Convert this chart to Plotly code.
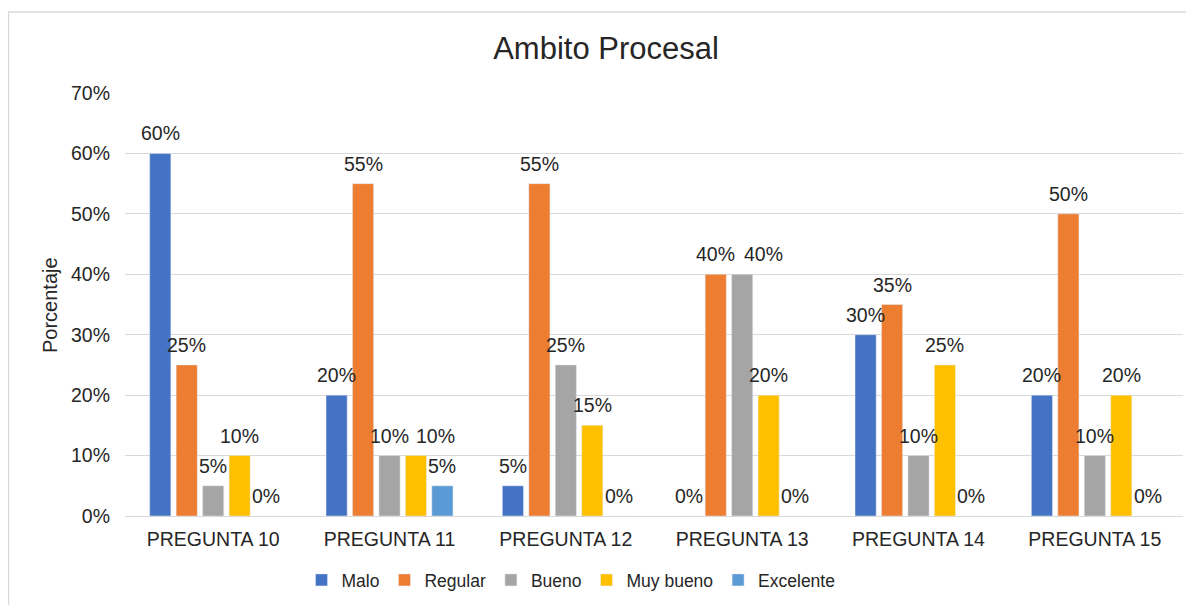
import plotly.graph_objects as go

categories = ["PREGUNTA 10", "PREGUNTA 11", "PREGUNTA 12", "PREGUNTA 13", "PREGUNTA 14", "PREGUNTA 15"]
malo = [0.60, 0.20, 0.05, 0.00, 0.30, 0.20]
regular = [0.25, 0.55, 0.55, 0.40, 0.35, 0.50]
bueno = [0.05, 0.10, 0.25, 0.40, 0.10, 0.10]
muy_bueno = [0.10, 0.10, 0.15, 0.20, 0.25, 0.20]
excelente = [0.00, 0.05, 0.00, 0.00, 0.00, 0.00]

series = [
    ("Malo", malo, "#4472C4"),
    ("Regular", regular, "#ED7D31"),
    ("Bueno", bueno, "#A5A5A5"),
    ("Muy bueno", muy_bueno, "#FFC000"),
    ("Excelente", excelente, "#5B9BD5"),
]

# label nudges (pixels) for labels moved aside to avoid overlaps: (series index, category index) -> dx
label_nudge = {(3, 1): 20, (2, 3): 21}

FONT = "Liberation Sans, Arial, sans-serif"
TXT = "#262626"
W, H = 1186, 597
L, R, T, B = 117, 11, 85, 89
PW, PH = W - L - R, H - T - B
BARGAP, GROUPGAP = 0.25, 0.2
n_series = len(series)
slot = PW / len(categories) * (1 - BARGAP) / n_series

fig = go.Figure()
for si, (name, vals, color) in enumerate(series):
    fig.add_trace(go.Bar(name=name, x=categories, y=vals, marker_color=color))
    for ci, (cat, v) in enumerate(zip(categories, vals)):
        fig.add_annotation(
            x=cat, y=v, xref="x", yref="y", text=f"{round(v*100)}%", showarrow=False,
            xanchor="center", yanchor="bottom",
            xshift=(si - (n_series - 1) / 2) * slot + label_nudge.get((si, ci), 0),
            yshift=7,
            font=dict(family=FONT, size=19.5, color=TXT),
        )

fig.update_layout(
    width=W, height=H,
    paper_bgcolor="white", plot_bgcolor="white",
    margin=dict(l=L, r=R, t=T, b=B, autoexpand=False),
    barmode="group", bargap=BARGAP, bargroupgap=GROUPGAP,
    font=dict(family=FONT, color=TXT),
    title=dict(text="Ambito Procesal", x=598/W, xref="container", xanchor="center",
               y=1-40/H, yref="container", yanchor="middle",
               font=dict(family=FONT, size=31, color=TXT)),
    legend=dict(orientation="h", x=563/W, xref="container", xanchor="center",
                y=1-572/H, yref="container", yanchor="middle",
                font=dict(family=FONT, size=17.5, color=TXT),
                itemwidth=30, traceorder="normal"),
    showlegend=True,
)
fig.update_yaxes(range=[0, 0.7], dtick=0.1, tickformat=".0%", showgrid=True,
                 gridcolor="#D9D9D9", gridwidth=1, zeroline=False,
                 tickfont=dict(family=FONT, size=19.5, color=TXT),
                 ticks="", ticklabelstandoff=14)
fig.update_xaxes(showline=True, linecolor="#D9D9D9", linewidth=1, ticks="",
                 tickfont=dict(family=FONT, size=19.5, color=TXT), ticklabelstandoff=6)

fig.add_annotation(text="Porcentaje", textangle=-90, xref="paper", yref="paper",
                   x=(42 - L) / PW, y=(H - B - (305 - 8)) / PH, showarrow=False,
                   xanchor="center", yanchor="middle",
                   font=dict(family=FONT, size=20, color=TXT))

fig.add_shape(type="rect", xref="paper", yref="paper", x0=(0.5 - L) / PW, x1=1.05,
              y0=-0.5, y1=1 + (T - 4) / PH, line=dict(color="#D9D9D9", width=1.5),
              fillcolor="rgba(0,0,0,0)", layer="below")

fig.write_html("out.html")
